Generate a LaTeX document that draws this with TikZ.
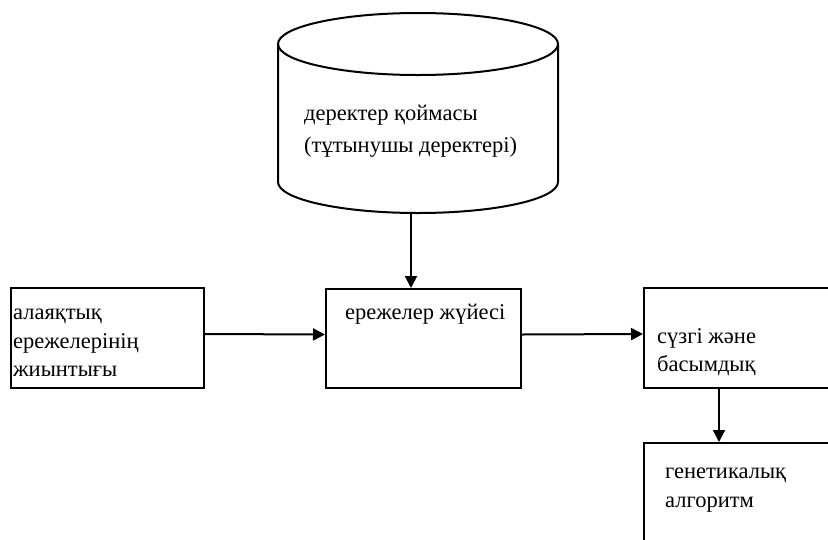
\documentclass[tikz,border=0pt]{standalone}
\usepackage{fontspec}
\setmainfont{Liberation Serif}
\usetikzlibrary{arrows.meta}

\begin{document}
\begin{tikzpicture}[x=1pt,y=-1pt]
	\tikzset{>={Triangle[length=12pt,width=12pt]}}
	\tikzset{box/.style={draw,line width=2pt,rectangle,anchor=north west,inner sep=0pt}}
	\tikzset{lbl/.style={anchor=west,align=left,inner sep=0pt,font=\fontsize{22.5}{28.5}\selectfont}}
	\useasboundingbox (0,0) rectangle (828,539);
	\begin{scope}
	\clip (0,0) rectangle (828,539);
	% data store drawn as a cylinder
	\draw[line width=2pt] (278,44) -- (278,182) arc[start angle=180,end angle=0,x radius=140,y radius=31] -- (558,44);
	\draw[line width=2pt] (418,44) ellipse[x radius=140,y radius=31];
	\coordinate (storebot) at (411,213);
	\node[lbl,font=\fontsize{22.5}{32}\selectfont] (storetxt) at (304,131) {деректер қоймасы\\(тұтынушы деректері)};
	% boxes
	\node[box,minimum width=193pt,minimum height=100pt] (setbox) at (10,287) {};
	\node[box,minimum width=195pt,minimum height=99pt] (rulesbox) at (325,288) {};
	\node[box,minimum width=450pt,minimum height=100pt] (filtbox) at (643,287) {};
	\node[box,minimum width=450pt,minimum height=200pt] (genbox) at (643,442) {};
	\node[lbl] (settxt) at (13,343) {алаяқтық\\ережелерінің\\жиынтығы};
	\node[lbl] (rulestxt) at (345,314) {ережелер жүйесі};
	\node[lbl] (filttxt) at (657,352) {сүзгі және\\басымдық};
	\node[lbl] (gentxt) at (665,490) {генетикалық\\алгоритм};
	% connectors
	\coordinate (split) at (719,387);
	\draw[->,line width=2pt] (storebot) -- (storebot |- rulesbox.north);
	\draw[->,line width=2pt] ([yshift=4pt]setbox.east) -- ([yshift=4pt]rulesbox.west);
	\draw[->,line width=2pt] ([yshift=4pt]rulesbox.east) -- ([yshift=4pt]filtbox.west);
	\draw[->,line width=2pt] (split) -- (split |- genbox.north);
	\end{scope}
\end{tikzpicture}
\end{document}
